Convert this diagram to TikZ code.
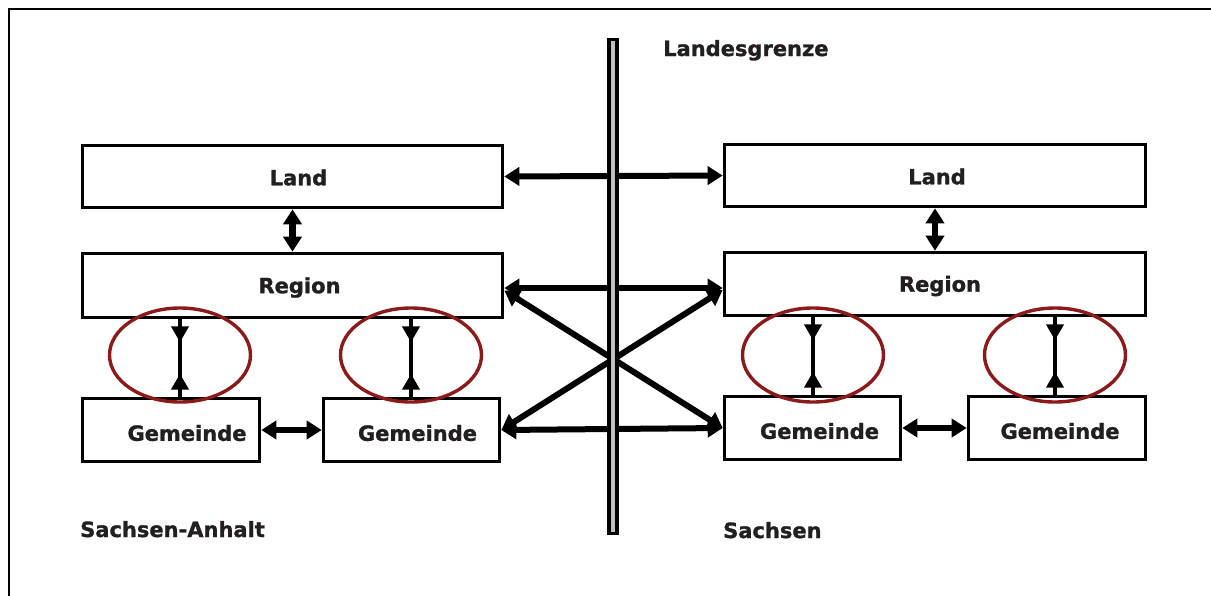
\documentclass[tikz,border=0pt]{standalone}
\usepackage{fontspec}
\setmainfont{DejaVu Sans}[BoldFeatures={FakeBold=1.2}]
\usetikzlibrary{arrows.meta,shapes.geometric}
\definecolor{txt}{HTML}{231F20}
\definecolor{ellred}{HTML}{8B1A1A}
\definecolor{bargray}{HTML}{BFBFBF}
\begin{document}
\begin{tikzpicture}[x=1pt,y=-1pt,
  every node/.style={font=\fontsize{21}{25}\selectfont\bfseries, text=txt},
  box/.style={draw=black, line width=3.6pt, fill=white, inner sep=0pt},
  oval/.style={draw=ellred, line width=3.4pt, ellipse, inner sep=0pt, minimum width=141pt, minimum height=94pt},
  bigarrow/.style={line width=6pt, {Triangle[length=15pt,width=18pt]}-{Triangle[length=15pt,width=18pt]}},
  vertarrow/.style={line width=6.5pt, {Triangle[length=15pt,width=18pt]}-{Triangle[length=15pt,width=18pt]}},
  plainline/.style={line width=4.5pt},
  inwardtips/.style={line width=4.5pt, shorten <=7pt, shorten >=7pt, {Triangle[reversed,length=16pt,width=17pt]}-{Triangle[reversed,length=16pt,width=17pt]}},
  lbl/.style={font=\fontsize{21}{25}\selectfont\bfseries, text=txt}
]
\useasboundingbox (0,0) rectangle (1211,595);
\draw[line width=2.5pt] (9,596) -- (9,9) -- (1212,9);

% boxes
\node[box, minimum width=420pt, minimum height=62pt, label={[lbl,xshift=6pt,yshift=-1pt]center:Land}] (LL) at (292.5,176.5) {};
\node[box, minimum width=421pt, minimum height=62pt, label={[lbl,xshift=2pt,yshift=-1pt]center:Land}] (RL) at (935,175.5) {};
\node[box, minimum width=420pt, minimum height=64pt, label={[lbl,xshift=7pt,yshift=-2pt]center:Region}] (LR) at (292.5,285.5) {};
\node[box, minimum width=421pt, minimum height=63pt, label={[lbl,xshift=5pt,yshift=-2pt]center:Region}] (RR) at (935,284) {};
\node[box, minimum width=177pt, minimum height=63pt, label={[lbl,xshift=16pt,yshift=-3pt]center:Gemeinde}] (LG1) at (171,430) {};
\node[box, minimum width=176pt, minimum height=63pt, label={[lbl,xshift=6pt,yshift=-3pt]center:Gemeinde}] (LG2) at (411.5,430) {};
\node[box, minimum width=176pt, minimum height=63pt, label={[lbl,xshift=7pt,yshift=-3pt]center:Gemeinde}] (RG1) at (812.5,428) {};
\node[box, minimum width=177pt, minimum height=63pt, label={[lbl,xshift=3pt,yshift=-3pt]center:Gemeinde}] (RG2) at (1057,428) {};

% ellipses
\node[oval] (e1) at (180,355) {};
\node[oval] (e2) at (411,355) {};
\node[oval] (e3) at (813,355) {};
\node[oval] (e4) at (1055,355) {};

% vertical arrows in ellipses
\foreach \e/\r/\g in {e1/LR/LG1, e2/LR/LG2, e3/RR/RG1, e4/RR/RG2}{
  \draw[plainline] (\e |- \r.south) -- (\e |- \g.north);
  \draw[inwardtips] (\e |- \r.south) -- (\e |- \g.north);
}

% Land-Region
\draw[vertarrow] (LL) -- (LR);
\draw[vertarrow] (RL) -- (RR);

% Gemeinde-Gemeinde
\draw[bigarrow] (LG1.east) -- (LG1.east -| LG2.west);
\draw[bigarrow] (RG1.east) -- (RG1.east -| RG2.west);

% across the border
\draw[bigarrow] (LL.east) -- (RL.west);
\draw[bigarrow] ([yshift=-2.5pt]LR.east) -- ([yshift=-4pt]RR.west);
\draw[bigarrow] (LG2.east) -- (RG1.west);
\draw[bigarrow] ([yshift=-5pt]LR.east) -- (RG1.west);
\draw[bigarrow] ([yshift=-6pt]RR.west) -- (LG2.east);

% border bar
\node[draw=black, line width=3.6pt, fill=bargray, minimum width=8.5pt, minimum height=494pt, inner sep=0pt] (bar) at (613,286.5) {};

% labels
\node[anchor=base west, inner sep=0pt] (lg) at (663,56) {Landesgrenze};
\node[anchor=base west, inner sep=0pt] (sa) at (80,537) {Sachsen-Anhalt};
\node[anchor=base west, inner sep=0pt] (sx) at (723,538) {Sachsen};
\end{tikzpicture}
\end{document}
